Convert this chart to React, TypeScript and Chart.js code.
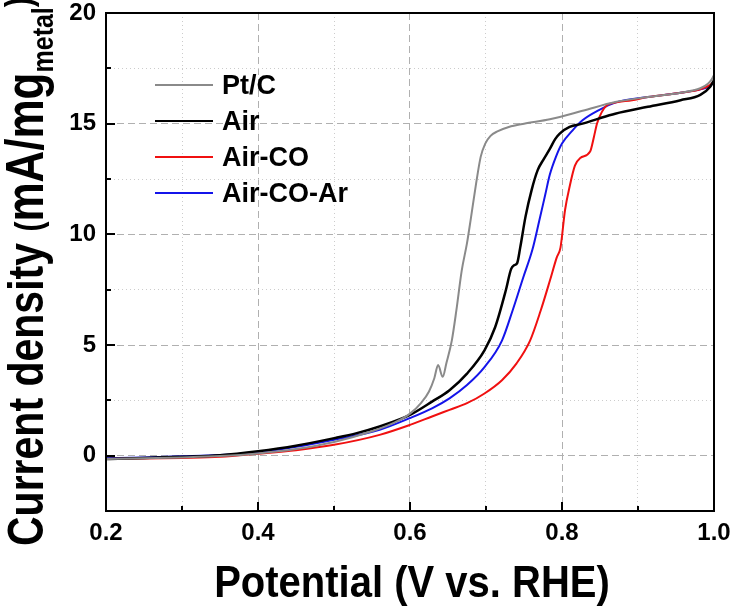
import React, { useEffect, useRef } from 'react';
import { Chart, registerables } from 'chart.js';

Chart.register(...registerables);

// ---- Data ----
const ptcV = [0.2, 0.25, 0.3, 0.35, 0.4, 0.45, 0.5, 0.55, 0.58, 0.6, 0.615, 0.625, 0.632, 0.637, 0.643, 0.648, 0.655, 0.661, 0.668, 0.675, 0.68, 0.687, 0.693, 0.699, 0.706, 0.715, 0.73, 0.75, 0.784, 0.827, 0.87, 0.913, 0.956, 0.982, 0.992, 0.997, 1.0];
const ptcJ = [-0.15, -0.12, -0.08, -0.02, 0.1, 0.3, 0.62, 1.1, 1.5, 1.9, 2.4, 2.9, 3.5, 4.1, 3.56, 4.2, 5.2, 6.56, 8.35, 9.6, 10.7, 12.3, 13.5, 14.1, 14.45, 14.65, 14.85, 15.0, 15.2, 15.58, 15.98, 16.2, 16.4, 16.6, 16.8, 17.0, 17.2];

const airV = [0.2, 0.25, 0.3, 0.35, 0.4, 0.45, 0.5, 0.53, 0.56, 0.6, 0.629, 0.652, 0.675, 0.698, 0.712, 0.726, 0.733, 0.737, 0.741, 0.745, 0.752, 0.76, 0.768, 0.776, 0.784, 0.791, 0.797, 0.81, 0.827, 0.848, 0.87, 0.913, 0.956, 0.982, 0.995, 1.0];
const airJ = [-0.15, -0.1, -0.05, 0.02, 0.2, 0.45, 0.79, 1.02, 1.32, 1.84, 2.44, 2.96, 3.71, 4.76, 5.8, 7.46, 8.43, 8.6, 8.7, 9.4, 10.8, 12.0, 12.9, 13.4, 13.86, 14.3, 14.55, 14.85, 15.0, 15.23, 15.45, 15.76, 16.06, 16.3, 16.67, 16.97];

const airCoV = [0.2, 0.25, 0.3, 0.35, 0.4, 0.45, 0.5, 0.56, 0.6, 0.629, 0.652, 0.675, 0.698, 0.721, 0.74, 0.758, 0.772, 0.784, 0.793, 0.798, 0.804, 0.81, 0.817, 0.824, 0.837, 0.842, 0.846, 0.852, 0.859, 0.87, 0.892, 0.913, 0.956, 0.982, 0.995, 1.0];
const airCoJ = [-0.15, -0.13, -0.1, -0.05, 0.09, 0.25, 0.49, 0.94, 1.39, 1.77, 2.07, 2.37, 2.81, 3.41, 4.16, 5.2, 6.56, 7.9, 8.95, 9.4, 11.1, 12.15, 13.1, 13.45, 13.74, 14.4, 15.0, 15.5, 15.83, 15.95, 16.06, 16.2, 16.4, 16.55, 16.75, 16.9];

const airCoArV = [0.2, 0.25, 0.3, 0.35, 0.4, 0.45, 0.5, 0.56, 0.6, 0.629, 0.652, 0.675, 0.698, 0.721, 0.735, 0.749, 0.761, 0.77, 0.778, 0.784, 0.792, 0.8, 0.814, 0.827, 0.848, 0.87, 0.913, 0.956, 0.982, 0.995, 1.0];
const airCoArJ = [-0.12, -0.08, -0.03, 0.03, 0.16, 0.4, 0.72, 1.17, 1.7, 2.14, 2.59, 3.19, 4.0, 5.2, 6.56, 8.05, 9.3, 10.6, 11.8, 12.7, 13.5, 14.1, 14.7, 15.15, 15.6, 15.95, 16.2, 16.4, 16.55, 16.7, 16.9];

const seriesLabels = ['Pt/C', 'Air', 'Air-CO', 'Air-CO-Ar'];
const seriesColors = ['#8a8a8a', '#000000', '#f01010', '#1414ea'];

const xTickValues = [0.2, 0.3, 0.4, 0.5, 0.6, 0.7, 0.8, 0.9, 1.0];
const xTickLabels = ['0.2', '0.4', '0.6', '0.8', '1.0'];
const yTickValues = [-2.5, 0, 2.5, 5, 7.5, 10, 12.5, 15, 17.5, 20];
const yTickLabels = ['0', '5', '10', '15', '20'];

const xTitle = 'Potential (V vs. RHE)';
const yTitleMain = 'Current density ';
const yTitleUnit = 'mA/mg';
const yTitleSub = 'metal';

const FONT = '"Liberation Sans", Arial, sans-serif';

const toPoints = (xs: number[], ys: number[]) => xs.map((x, i) => ({ x, y: ys[i] }));

const near = (a: number, b: number) => Math.abs(a - b) < 1e-6;

const framePlugin = {
  id: 'frame',
  afterDraw(chart: any) {
    const { ctx, chartArea: a, scales } = chart;
    const xs = scales.x;
    const ys = scales.y;
    ctx.save();
    // inward ticks
    ctx.strokeStyle = '#000';
    ctx.lineWidth = 2;
    xTickValues.forEach((v) => {
      const px = Math.round(xs.getPixelForValue(v));
      const major = xTickLabels.some((l) => near(parseFloat(l), v));
      const len = major ? 9 : 5;
      ctx.beginPath();
      ctx.moveTo(px, a.bottom);
      ctx.lineTo(px, a.bottom - len);
      ctx.stroke();
    });
    yTickValues.forEach((v) => {
      const py = Math.round(ys.getPixelForValue(v));
      const major = yTickLabels.some((l) => near(parseFloat(l), v));
      const len = major ? 9 : 5;
      ctx.beginPath();
      ctx.moveTo(a.left, py);
      ctx.lineTo(a.left + len, py);
      ctx.stroke();
    });
    // frame
    ctx.lineWidth = 2;
    ctx.strokeRect(a.left, a.top, a.right - a.left, a.bottom - a.top);

    // legend
    const lx0 = 155;
    const lx1 = 213;
    const ly0 = 85;
    const dy = 36;
    chart.data.datasets.forEach((ds: any, i: number) => {
      const y = ly0 + i * dy;
      ctx.strokeStyle = ds.borderColor;
      ctx.lineWidth = 2;
      ctx.beginPath();
      ctx.moveTo(lx0, y);
      ctx.lineTo(lx1, y);
      ctx.stroke();
      ctx.save();
      ctx.fillStyle = '#000';
      ctx.font = `bold 27px ${FONT}`;
      ctx.textBaseline = 'alphabetic';
      ctx.textAlign = 'left';
      ctx.translate(222, y + 9);
      ctx.scale(1, 1.02);
      ctx.fillText(ds.label, 0, 0);
      ctx.restore();
    });

    // x-axis title
    ctx.save();
    ctx.fillStyle = '#000';
    ctx.font = `bold 40px ${FONT}`;
    ctx.textAlign = 'center';
    ctx.textBaseline = 'alphabetic';
    ctx.translate((a.left + a.right) / 2 + 2, 597);
    ctx.scale(1, 1.12);
    ctx.fillText(xTitle, 0, 0);
    ctx.restore();

    // y-axis title (rotated, with subscript)
    ctx.translate(43, 546);
    ctx.rotate(-Math.PI / 2);
    ctx.scale(1, 1.2);
    ctx.textBaseline = 'alphabetic';
    ctx.textAlign = 'left';
    ctx.fillStyle = '#000';
    let x = 0;
    ctx.font = `bold 41px ${FONT}`;
    ctx.fillText(yTitleMain, x, 0);
    x += ctx.measureText(yTitleMain).width;
    ctx.font = `bold 30px ${FONT}`;
    ctx.fillText('(', x, -2);
    x += ctx.measureText('(').width;
    ctx.font = `bold 44px ${FONT}`;
    ctx.fillText(yTitleUnit, x, 0);
    x += ctx.measureText(yTitleUnit).width;
    ctx.font = `bold 25px ${FONT}`;
    ctx.fillText(yTitleSub, x, 8);
    x += ctx.measureText(yTitleSub).width;
    ctx.font = `bold 30px ${FONT}`;
    ctx.fillText(')', x, -10);
    ctx.restore();
  },
};

export default function App() {
  const ref = useRef<HTMLCanvasElement>(null);
  useEffect(() => {
    document.body.style.margin = '0';
    const canvas = ref.current;
    if (!canvas) return;
    const data = [
      toPoints(ptcV, ptcJ),
      toPoints(airV, airJ),
      toPoints(airCoV, airCoJ),
      toPoints(airCoArV, airCoArJ),
    ];
    const chart = new Chart(canvas, {
      type: 'line',
      data: {
        datasets: data.map((d, i) => ({
          label: seriesLabels[i],
          data: d,
          borderColor: seriesColors[i],
          backgroundColor: seriesColors[i],
          borderWidth: i === 1 ? 2.5 : 2,
          pointRadius: 0,
          cubicInterpolationMode: 'monotone' as const,
          fill: false,
        })),
      },
      options: {
        responsive: false,
        animation: false,
        layout: { padding: { top: 13, right: 19, left: 0, bottom: 0 } },
        plugins: {
          legend: { display: false },
          tooltip: { enabled: false },
        },
        scales: {
          x: {
            type: 'linear',
            min: 0.2,
            max: 1.0,
            afterBuildTicks: (s: any) => {
              s.ticks = xTickValues.map((v) => ({ value: v }));
            },
            afterFit: (s: any) => {
              s.height = 101;
              s.paddingLeft = 0;
              s.paddingRight = 0;
            },
            ticks: {
              autoSkip: false,
              maxRotation: 0,
              padding: 8,
              color: '#000',
              font: { family: FONT, size: 24, weight: 'bold' },
              callback: (v: any) => {
                const l = xTickLabels.find((t) => near(parseFloat(t), Number(v)));
                return l ?? '';
              },
            },
            grid: {
              drawTicks: false,
              lineWidth: 1,
              color: (c: any) => {
                const v = c.tick ? c.tick.value : 0;
                if (near(v, 0.2) || near(v, 1.0)) return 'rgba(0,0,0,0)';
                return xTickLabels.some((t) => near(parseFloat(t), v)) ? '#b0b0b0' : '#cccccc';
              },
            },
            border: {
              display: false,
              dash: (c: any) => {
                const v = c.tick ? c.tick.value : 0;
                return xTickLabels.some((t) => near(parseFloat(t), v)) ? [7, 4] : [1, 3];
              },
            },
            title: { display: false, text: xTitle },
          },
          y: {
            type: 'linear',
            min: -2.5,
            max: 20,
            afterBuildTicks: (s: any) => {
              s.ticks = yTickValues.map((v) => ({ value: v }));
            },
            afterFit: (s: any) => {
              s.width = 106;
              s.paddingTop = 0;
              s.paddingBottom = 0;
            },
            ticks: {
              autoSkip: false,
              padding: 10,
              color: '#000',
              font: { family: FONT, size: 24, weight: 'bold' },
              callback: (v: any) => {
                const l = yTickLabels.find((t) => near(parseFloat(t), Number(v)));
                return l ?? '';
              },
            },
            grid: {
              drawTicks: false,
              lineWidth: 1,
              color: (c: any) => {
                const v = c.tick ? c.tick.value : 0;
                if (near(v, -2.5) || near(v, 20)) return 'rgba(0,0,0,0)';
                return yTickLabels.some((t) => near(parseFloat(t), v)) ? '#b0b0b0' : '#cccccc';
              },
            },
            border: {
              display: false,
              dash: (c: any) => {
                const v = c.tick ? c.tick.value : 0;
                return yTickLabels.some((t) => near(parseFloat(t), v)) ? [7, 4] : [1, 3];
              },
            },
          },
        },
      },
      plugins: [framePlugin],
    } as any);
    return () => chart.destroy();
  }, []);
  return (
    <div style={{ width: 733, height: 612 }}>
      <canvas ref={ref} width={733} height={612} style={{ display: 'block', width: 733, height: 612 }} />
    </div>
  );
}
